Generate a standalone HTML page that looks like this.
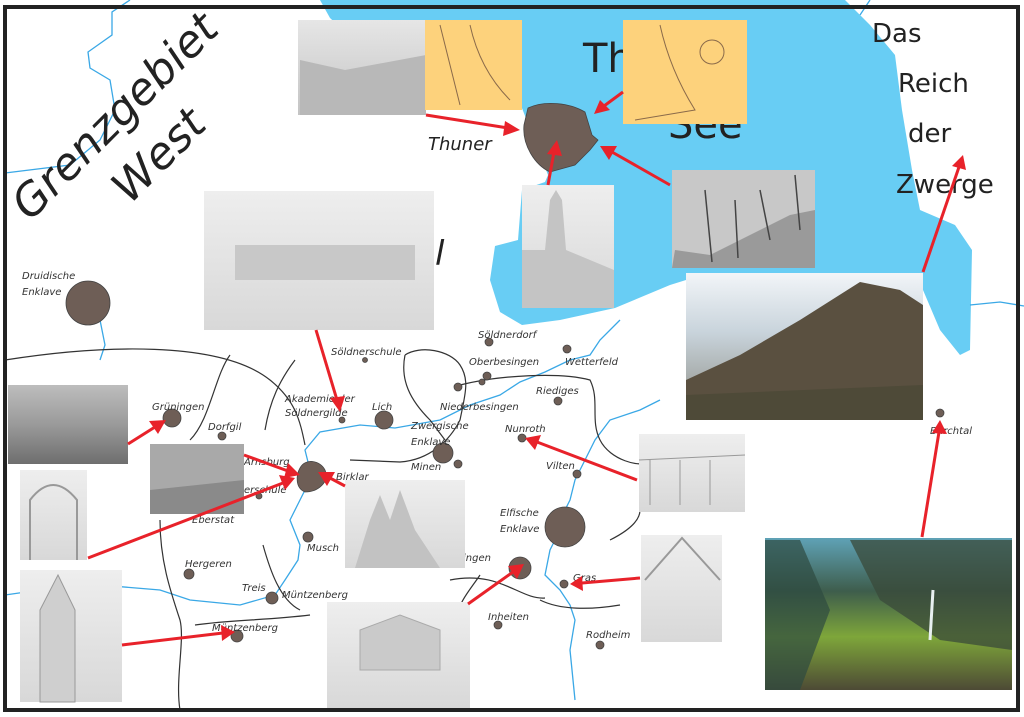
<!DOCTYPE html>
<html><head><meta charset="utf-8">
<style>
html,body{margin:0;padding:0;background:#fff;}
svg{display:block}
.hw{font-family:"DejaVu Sans","Liberation Sans",sans-serif;font-style:italic;fill:#222;}
.sm{font-family:"DejaVu Sans","Liberation Sans",sans-serif;font-style:italic;fill:#333;font-size:10px;}
</style></head>
<body>
<svg width="1024" height="717" viewBox="0 0 1024 717" xmlns="http://www.w3.org/2000/svg">
<defs>
<linearGradient id="gray" x1="0" y1="0" x2="0" y2="1"><stop offset="0" stop-color="#e6e6e6"/><stop offset="1" stop-color="#c4c4c4"/></linearGradient>
<linearGradient id="gray2" x1="0" y1="0" x2="0" y2="1"><stop offset="0" stop-color="#eeeeee"/><stop offset="1" stop-color="#d8d8d8"/></linearGradient>
<linearGradient id="dark" x1="0" y1="0" x2="0" y2="1"><stop offset="0" stop-color="#bdbdbd"/><stop offset="0.5" stop-color="#9a9a9a"/><stop offset="1" stop-color="#6e6e6e"/></linearGradient>
<linearGradient id="mtn" x1="0" y1="0" x2="0" y2="1"><stop offset="0" stop-color="#f2f5f8"/><stop offset="0.4" stop-color="#c9d4dc"/><stop offset="1" stop-color="#8a8a80"/></linearGradient>
<linearGradient id="val" x1="0" y1="0" x2="0" y2="1"><stop offset="0" stop-color="#5fa2b6"/><stop offset="0.35" stop-color="#3e5d4c"/><stop offset="0.65" stop-color="#7ea63a"/><stop offset="1" stop-color="#4d4a35"/></linearGradient>
</defs>
<rect width="1024" height="717" fill="#fff"/>
<path d="M320,0 L845,0 L870,25 L895,55 L902,110 L912,170 L920,210 L955,225 L972,250 L970,350 L960,355 L940,330 L923,290 L686,280 L670,285 L615,308 L560,320 L522,325 L500,312 L490,280 L495,246 L518,240 L522,190 L545,182 L548,175 L520,103 L430,110 L330,18 Z" fill="#68cdf4"/>
<g fill="none" stroke="#3aa8e6" stroke-width="1.3">
<path d="M130,0 L112,12 L112,35 L88,52 L90,68 L110,80 L115,110 L100,140 L70,165 L5,173"/>
<path d="M88,303 L100,320 L105,345 L100,360"/>
<path d="M310,470 L305,450 L320,432 L360,425 L395,428 L440,420 L470,405 L500,395 L520,382 L545,372 L570,360 L590,355 L600,340 L620,320"/>
<path d="M310,480 L300,500 L290,520 L300,545 L298,560 L285,580 L275,595 L240,605 L190,600 L160,590 L100,585 L40,590 L5,595"/>
<path d="M560,520 L570,500 L575,480 L585,460 L595,440 L610,420 L640,410 L660,400"/>
<path d="M560,530 L550,550 L545,575 L560,590 L570,605 L575,620 L570,650 L575,700"/>
<path d="M970,305 L1000,302 L1024,306"/>
<path d="M870,0 L860,15"/>
</g>
<g fill="none" stroke="#333" stroke-width="1.2">
<path d="M5,360 C100,345 220,340 270,380 C295,400 300,420 305,445"/>
<path d="M230,355 C215,375 210,420 190,440"/>
<path d="M295,360 C280,380 270,400 265,430"/>
<path d="M405,355 C420,345 450,350 460,365 C470,380 465,395 460,420 C450,440 430,460 400,462 L350,460"/>
<path d="M460,385 C500,375 560,372 590,380 C600,400 590,420 600,440 C610,460 640,468 650,462"/>
<path d="M405,355 C400,380 410,400 430,420 L445,440"/>
<path d="M160,520 C160,560 170,590 180,620 C185,640 175,680 180,710"/>
<path d="M195,625 C230,620 270,620 310,615"/>
<path d="M263,545 C270,570 280,600 300,610"/>
<path d="M480,575 C470,590 460,600 455,620"/>
<path d="M540,600 C560,610 590,610 620,605"/>
<path d="M610,540 C630,530 640,520 640,510"/>
<path d="M450,580 C500,570 520,600 545,598"/>
</g>
<g fill="#6e5e56" stroke="#444" stroke-width="0.8">
<path d="M528,108 C545,100 570,103 585,112 L592,135 L598,140 L590,150 L575,165 L550,172 C535,165 522,145 524,125 Z"/>
<circle cx="88" cy="303" r="22"/>
<path d="M300,468 C305,458 320,460 325,470 C330,482 318,492 305,492 C295,488 296,475 300,468Z"/>
<circle cx="384" cy="420" r="9"/>
<circle cx="443" cy="453" r="10"/>
<circle cx="458" cy="464" r="4"/>
<circle cx="565" cy="527" r="20"/>
<circle cx="172" cy="418" r="9"/>
<circle cx="520" cy="568" r="11"/>
<circle cx="272" cy="598" r="6"/>
<circle cx="237" cy="636" r="6"/>
<circle cx="308" cy="537" r="5"/>
<circle cx="189" cy="574" r="5"/>
<circle cx="222" cy="436" r="4"/>
<circle cx="342" cy="420" r="3"/>
<circle cx="365" cy="360" r="2.5"/>
<circle cx="489" cy="342" r="4"/>
<circle cx="567" cy="349" r="4"/>
<circle cx="458" cy="387" r="4"/>
<circle cx="487" cy="376" r="4"/>
<circle cx="482" cy="382" r="3"/>
<circle cx="558" cy="401" r="4"/>
<circle cx="522" cy="438" r="4"/>
<circle cx="577" cy="474" r="4"/>
<circle cx="564" cy="584" r="4"/>
<circle cx="498" cy="625" r="4"/>
<circle cx="600" cy="645" r="4"/>
<circle cx="940" cy="413" r="4"/>
<circle cx="259" cy="496" r="3"/>
</g>
<text class="hw" font-size="44" transform="translate(30,222) rotate(-45)">Grenzgebiet</text>
<text class="hw" font-size="44" transform="translate(130,205) rotate(-45)">West</text>
<text class="hw" font-size="40" x="583" y="72" style="font-style:normal">Th</text>
<text class="hw" font-size="40" x="730" y="72" style="font-style:normal">r</text>
<text class="hw" font-size="40" x="668" y="138" style="font-style:normal">See</text>
<text class="hw" font-size="26" x="872" y="42" style="font-style:normal">Das</text>
<text class="hw" font-size="26" x="898" y="92" style="font-style:normal">Reich</text>
<text class="hw" font-size="26" x="908" y="142" style="font-style:normal">der</text>
<text class="hw" font-size="26" x="896" y="193" style="font-style:normal">Zwerge</text>
<text class="hw" font-size="18" x="428" y="150">Thuner</text>
<text class="hw" font-size="34" x="435" y="265">l</text>
<text class="sm" x="22" y="279">Druidische</text>
<text class="sm" x="22" y="295">Enklave</text>
<text class="sm" x="152" y="410" font-size="13">Grüningen</text>
<text class="sm" x="208" y="430">Dorfgil</text>
<text class="sm" x="285" y="402">Akademie der</text>
<text class="sm" x="285" y="416">Söldnergilde</text>
<text class="sm" x="372" y="410" font-size="14">Lich</text>
<text class="sm" x="331" y="355">Söldnerschule</text>
<text class="sm" x="478" y="338">Söldnerdorf</text>
<text class="sm" x="469" y="365">Oberbesingen</text>
<text class="sm" x="565" y="365">Wetterfeld</text>
<text class="sm" x="536" y="394">Riediges</text>
<text class="sm" x="440" y="410">Niederbesingen</text>
<text class="sm" x="411" y="429">Zwergische</text>
<text class="sm" x="411" y="445">Enklave</text>
<text class="sm" x="411" y="470">Minen</text>
<text class="sm" x="505" y="432">Nunroth</text>
<text class="sm" x="546" y="469">Vilten</text>
<text class="sm" x="500" y="516">Elfische</text>
<text class="sm" x="500" y="532">Enklave</text>
<text class="sm" x="463" y="561" font-size="12">ingen</text>
<text class="sm" x="573" y="581">Gras</text>
<text class="sm" x="488" y="620">Inheiten</text>
<text class="sm" x="586" y="638">Rodheim</text>
<text class="sm" x="244" y="465">Arnsburg</text>
<text class="sm" x="336" y="480">Birklar</text>
<text class="sm" x="244" y="493">erschule</text>
<text class="sm" x="192" y="523">Eberstat</text>
<text class="sm" x="185" y="567">Hergeren</text>
<text class="sm" x="307" y="551">Musch</text>
<text class="sm" x="242" y="591">Treis</text>
<text class="sm" x="282" y="598">Müntzenberg</text>
<text class="sm" x="212" y="631" font-size="13">Müntzenberg</text>
<text class="sm" x="930" y="434">Burchtal</text>
<rect x="298" y="20" width="128" height="95" fill="url(#gray)"/>
<path d="M300,60 L345,70 L426,55 L426,115 L300,115Z" fill="#b8b8b8"/>
<rect x="425" y="20" width="97" height="90" fill="#fdd27c"/>
<path d="M440,25 L460,105 M470,25 Q480,70 510,100" stroke="#8a6a4a" fill="none"/>
<rect x="623" y="20" width="124" height="104" fill="#fdd27c"/>
<path d="M660,25 Q670,70 695,110 L635,120" stroke="#8a6a4a" fill="none"/>
<circle cx="712" cy="52" r="12" fill="none" stroke="#8a6a4a"/>
<rect x="204" y="191" width="230" height="139" fill="url(#gray2)"/>
<rect x="235" y="245" width="180" height="35" fill="#c8c8c8"/>
<rect x="522" y="185" width="92" height="123" fill="url(#gray2)"/>
<path d="M545,250 L550,200 L556,190 L562,200 L566,250 L614,270 L614,308 L522,308 L522,250Z" fill="#c4c4c4"/>
<rect x="672" y="170" width="143" height="98" fill="#c8c8c8"/>
<path d="M675,250 L710,255 L790,215 L815,210 L815,268 L672,268Z" fill="#9a9a9a"/>
<path d="M705,190 L712,262 M735,200 L738,258 M760,190 L770,240 M795,175 L800,230" stroke="#444" stroke-width="1.5"/>
<rect x="686" y="273" width="237" height="147" fill="url(#mtn)"/>
<path d="M686,380 L740,355 L800,320 L860,282 L900,290 L923,305 L923,420 L686,420Z" fill="#5a5040"/>
<path d="M686,395 L923,385 L923,420 L686,420Z" fill="#4e4a38"/>
<rect x="8" y="385" width="120" height="79" fill="url(#dark)"/>
<rect x="150" y="444" width="94" height="70" fill="#a9a9a9"/>
<path d="M150,490 L244,480 L244,514 L150,514Z" fill="#8a8a8a"/>
<rect x="20" y="470" width="67" height="90" fill="url(#gray2)"/>
<path d="M30,560 L30,500 Q53,470 77,500 L77,560" fill="none" stroke="#999" stroke-width="2"/>
<rect x="345" y="480" width="120" height="88" fill="url(#gray2)"/>
<path d="M355,568 L370,520 L380,495 L390,520 L400,490 L415,530 L440,568Z" fill="#c2c2c2"/>
<rect x="639" y="434" width="106" height="78" fill="url(#gray2)"/>
<path d="M639,460 L745,455 M650,460 L650,505 M680,460 L680,505 M710,460 L710,505" stroke="#999"/>
<rect x="20" y="570" width="102" height="132" fill="url(#gray2)"/>
<path d="M40,702 L40,610 L58,575 L75,610 L75,702Z" fill="#cfcfcf" stroke="#999"/>
<rect x="327" y="602" width="143" height="106" fill="url(#gray2)"/>
<path d="M360,670 L360,630 L400,615 L440,630 L440,670Z" fill="#cacaca" stroke="#aaa"/>
<rect x="641" y="535" width="81" height="107" fill="url(#gray2)"/>
<path d="M645,580 L682,538 L720,580" fill="none" stroke="#999" stroke-width="2"/>
<rect x="765" y="538" width="247" height="152" fill="url(#val)"/>
<path d="M765,540 L800,540 L830,610 L800,690 L765,690Z" fill="#2e4a40" opacity="0.7"/>
<path d="M850,540 L1012,540 L1012,650 L940,640 L880,600Z" fill="#3a4a3a" opacity="0.75"/>
<path d="M933,590 L930,640" stroke="#e8f0f0" stroke-width="3"/>
<g stroke="#e8222a" stroke-width="3" fill="#e8222a">
<line x1="426" y1="115" x2="508" y2="128"/><polygon points="520,130 505,121 503,136" stroke="none"/>
<line x1="548" y1="185" x2="554" y2="152"/><polygon points="557,140 547,154 562,156" stroke="none"/>
<line x1="670" y1="185" x2="612" y2="152"/><polygon points="600,146 609,160 617,146" stroke="none"/>
<line x1="623" y1="92" x2="604" y2="106"/><polygon points="594,114 600,100 610,110" stroke="none"/>
<line x1="316" y1="330" x2="337" y2="400"/><polygon points="340,412 330,398 345,396" stroke="none"/>
<line x1="128" y1="444" x2="155" y2="427"/><polygon points="166,420 149,421 158,434" stroke="none"/>
<line x1="244" y1="455" x2="288" y2="471"/><polygon points="300,475 288,463 284,478" stroke="none"/>
<line x1="88" y1="558" x2="283" y2="483"/><polygon points="295,478 279,475 285,490" stroke="none"/>
<line x1="345" y1="486" x2="330" y2="478"/><polygon points="318,472 327,486 335,472" stroke="none"/>
<line x1="637" y1="480" x2="537" y2="442"/><polygon points="525,438 535,450 541,435" stroke="none"/>
<line x1="468" y1="604" x2="513" y2="572"/><polygon points="524,564 508,566 517,579" stroke="none"/>
<line x1="640" y1="578" x2="582" y2="583"/><polygon points="570,584 583,591 582,576" stroke="none"/>
<line x1="122" y1="645" x2="223" y2="633"/><polygon points="235,632 221,625 222,641" stroke="none"/>
<line x1="923" y1="272" x2="959" y2="167"/><polygon points="963,155 952,166 966,170" stroke="none"/>
<line x1="922" y1="537" x2="939" y2="432"/><polygon points="940,420 932,433 947,434" stroke="none"/>
</g>
<rect x="5" y="7" width="1013" height="703" fill="none" stroke="#222" stroke-width="4"/>
</svg>
</body></html>
